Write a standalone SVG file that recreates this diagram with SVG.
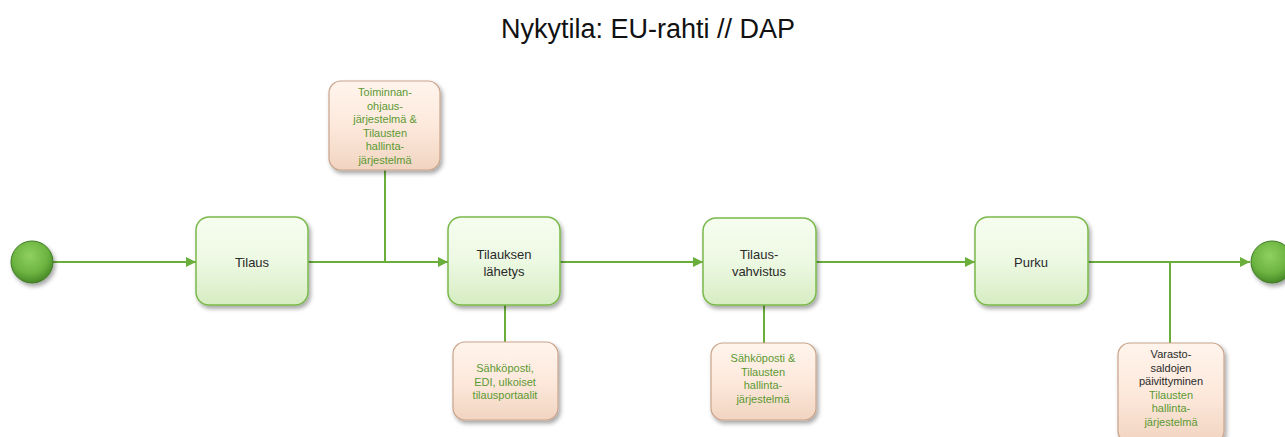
<svg xmlns="http://www.w3.org/2000/svg" width="1285" height="437" viewBox="0 0 1285 437">
<defs>
<linearGradient id="gG" x1="0" y1="0" x2="0" y2="1">
<stop offset="0" stop-color="#f6fdf0"/>
<stop offset="0.5" stop-color="#edf9e3"/>
<stop offset="1" stop-color="#d6ecc2"/>
</linearGradient>
<linearGradient id="gO" x1="0" y1="0" x2="0" y2="1">
<stop offset="0" stop-color="#fff4ec"/>
<stop offset="0.5" stop-color="#fde9dc"/>
<stop offset="1" stop-color="#f1d4c0"/>
</linearGradient>
<radialGradient id="gC" cx="0.45" cy="0.35" r="0.7">
<stop offset="0" stop-color="#8fd060"/>
<stop offset="0.6" stop-color="#6cb440"/>
<stop offset="1" stop-color="#3f7f22"/>
</radialGradient>
<filter id="sh" x="-20%" y="-20%" width="150%" height="150%">
<feDropShadow dx="2" dy="3" stdDeviation="2" flood-color="#000" flood-opacity="0.35"/>
</filter>
<marker id="arr" viewBox="0 0 10 10" refX="10" refY="5" markerWidth="10" markerHeight="10" markerUnits="userSpaceOnUse" orient="auto">
<path d="M0,0 L10,5 L0,10 z" fill="#6aae3c"/>
</marker>
</defs>
<style>
.g rect{fill:url(#gG);stroke:#79b94b;stroke-width:1.5;filter:url(#sh)}
.o rect{fill:url(#gO);stroke:#c9a48c;stroke-width:1.2;filter:url(#sh)}
.g text{font-family:"Liberation Sans",Arial,sans-serif;font-size:13px;fill:#2a2a2a;text-anchor:middle}
.o text{font-family:"Liberation Sans",Arial,sans-serif;font-size:11px;fill:#5c9933;text-anchor:middle}
.o text.k{fill:#2a2a2a}
.c line,.c path{stroke:#6aae3c;stroke-width:2;fill:none}
.ci circle{fill:url(#gC);stroke:#3f7a25;stroke-width:1;filter:url(#sh)}
</style>
<rect width="1285" height="437" fill="#ffffff"/>
<text x="648" y="38" font-family="Liberation Sans,Arial,sans-serif" font-size="27" fill="#111" text-anchor="middle">Nykytila: EU-rahti // DAP</text>

<g id="connectors" class="c">
<line x1="53" y1="262" x2="196" y2="262" marker-end="url(#arr)"/>
<line x1="308" y1="262" x2="448" y2="262" marker-end="url(#arr)"/>
<line x1="385" y1="170" x2="385" y2="262"/>
<line x1="560" y1="262" x2="703" y2="262" marker-end="url(#arr)"/>
<line x1="505" y1="305" x2="505" y2="342"/>
<line x1="816" y1="262" x2="975" y2="262" marker-end="url(#arr)"/>
<line x1="764" y1="305" x2="764" y2="343"/>
<line x1="1088" y1="262" x2="1250" y2="262" marker-end="url(#arr)"/>
<line x1="1170" y1="262" x2="1170" y2="343"/>
</g>

<g id="start" class="ci"><circle cx="32" cy="262" r="21"/></g>
<g id="end" class="ci"><circle cx="1272" cy="262" r="21"/></g>

<g id="tilaus" class="g">
<rect x="196" y="217" width="112" height="88" rx="13"/>
<text x="252" y="267">Tilaus</text>
</g>
<g id="tilauksen-lahetys" class="g">
<rect x="448" y="217" width="112" height="88" rx="13"/>
<text x="504" y="259">Tilauksen</text>
<text x="504" y="276">lähetys</text>
</g>
<g id="tilausvahvistus" class="g">
<rect x="703" y="218" width="113" height="87" rx="13"/>
<text x="759" y="259">Tilaus-</text>
<text x="759" y="276">vahvistus</text>
</g>
<g id="purku" class="g">
<rect x="975" y="217" width="113" height="88" rx="13"/>
<text x="1031" y="267">Purku</text>
</g>

<g id="toiminnanohjaus" class="o">
<rect x="329" y="81" width="111" height="89" rx="12"/>
<text x="385" y="96">Toiminnan-</text>
<text x="385" y="109.5">ohjaus-</text>
<text x="385" y="123">järjestelmä &amp;</text>
<text x="385" y="136.5">Tilausten</text>
<text x="385" y="150">hallinta-</text>
<text x="385" y="163.5">järjestelmä</text>
</g>
<g id="sahkoposti-edi" class="o">
<rect x="453" y="342" width="105" height="78" rx="12"/>
<text x="505" y="372">Sähköposti,</text>
<text x="505" y="385.5">EDI, ulkoiset</text>
<text x="505" y="399">tilausportaalit</text>
</g>
<g id="sahkoposti-tilausten" class="o">
<rect x="711" y="343" width="105" height="77" rx="12"/>
<text x="763" y="362">Sähköposti &amp;</text>
<text x="763" y="375.5">Tilausten</text>
<text x="763" y="389">hallinta-</text>
<text x="763" y="402.5">järjestelmä</text>
</g>
<g id="varastosaldot" class="o">
<rect x="1118" y="343" width="106" height="100" rx="12"/>
<text class="k" x="1171" y="358">Varasto-</text>
<text class="k" x="1171" y="371.5">saldojen</text>
<text class="k" x="1171" y="385">päivittyminen</text>
<text x="1171" y="398.5">Tilausten</text>
<text x="1171" y="412">hallinta-</text>
<text x="1171" y="425.5">järjestelmä</text>
</g>
</svg>
